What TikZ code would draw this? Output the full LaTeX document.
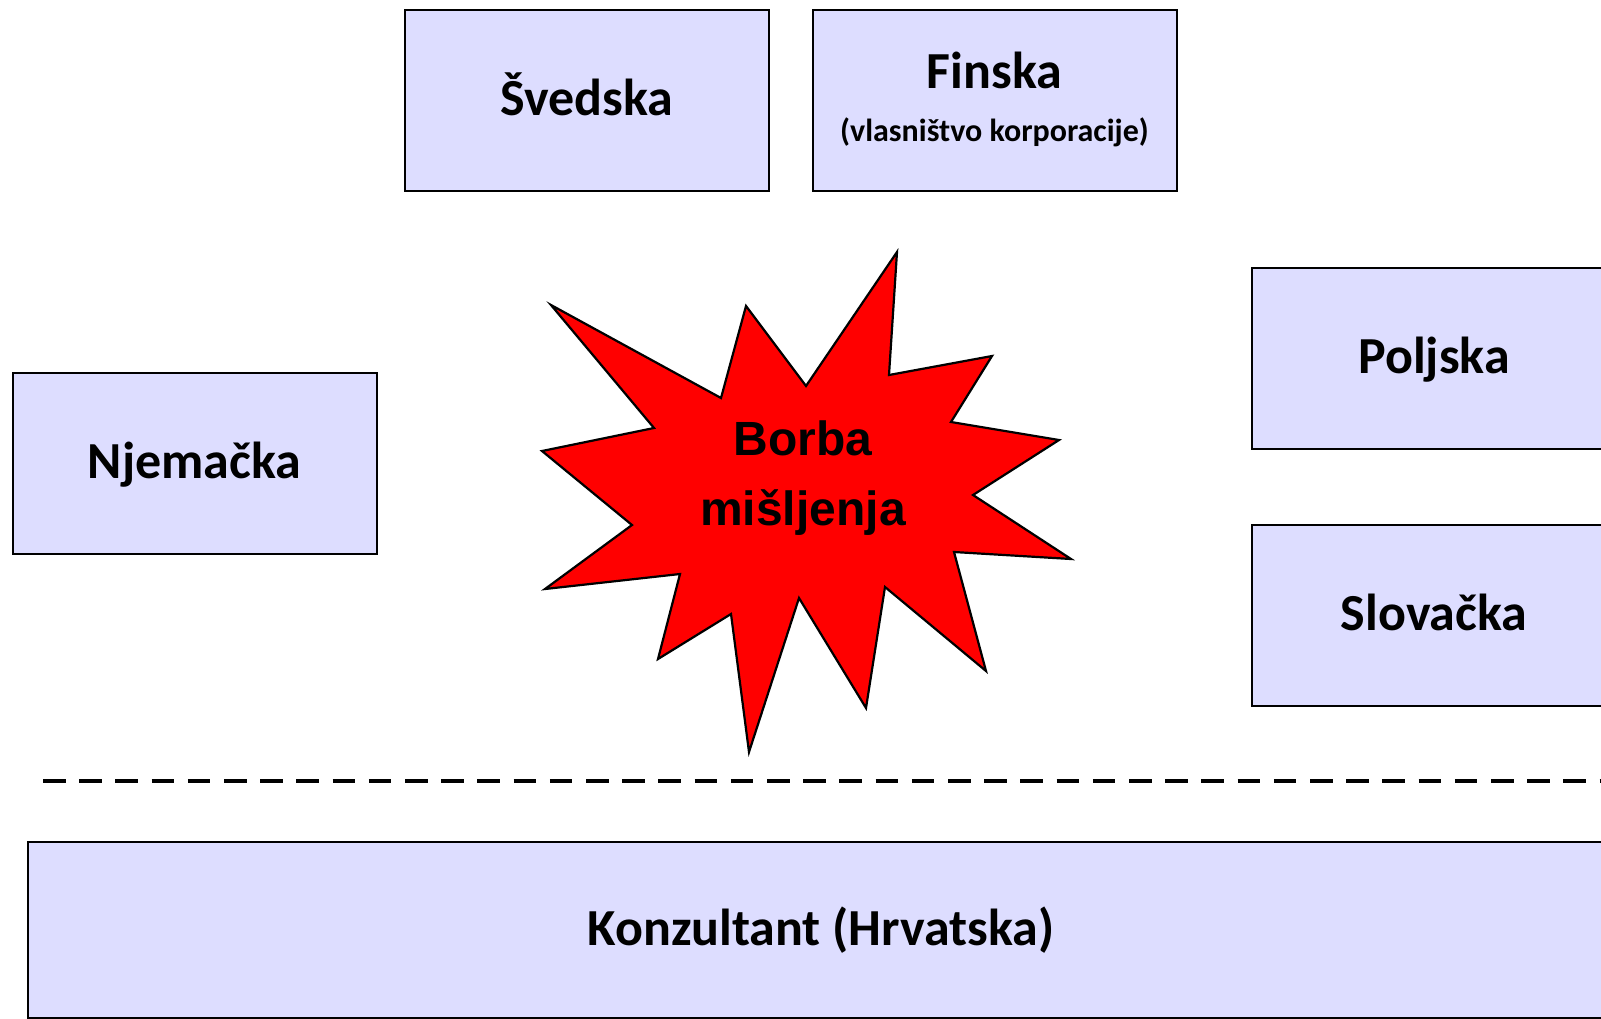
\documentclass[tikz,border=0pt]{standalone}
\usepackage{fontspec}
\setmainfont{Carlito}
\newfontfamily\arialfont{Liberation Sans}
\definecolor{boxfill}{RGB}{221,221,255}
\tikzset{
    country/.style = {draw, rectangle, fill=boxfill, line width=1pt,
        minimum height=90.5pt,
        minimum width=182pt, align=center,
        text height=19.2pt, text depth=3.9pt,
        font=\bfseries\fontsize{26}{31}\selectfont},
    burst/.style = {draw, fill=red, line width=1.1pt, line join=miter},
    split/.style = {draw, line width=2.15pt, dash pattern=on 11.3pt off 6.8pt}
}

\begin{document}
\begin{tikzpicture}[x=0.5pt, y=-0.5pt, node distance=204pt]
        \useasboundingbox (0,0) rectangle (1601,1018);
        \clip (0,0) rectangle (1601,1018);
        \node [country] (sved) at (586.5,100.5) {Švedska};
        \node [country, right of=sved] (fin) {};
        \node [anchor=base, font=\bfseries\fontsize{26}{31}\selectfont] (finime) at (994.5,88) {Finska};
        \node [anchor=base, font=\bfseries\fontsize{16}{19}\selectfont] (finpod) at (994.5,141) {(vlasništvo korporacije)};
        \node [country] (njem) at (194.5,463.5) {Njemačka};
        \node [country] (polj) at (1434,358.5) {Poljska};
        \node [country, below of=polj, node distance=128.25pt] (slov) {Slovačka};
        % borba
        \draw [burst] (897,252) -- (889,375) -- (992,356) -- (951,422) -- (1059,440)
            -- (973,495) -- (1071,559) -- (954,552) -- (986,671) -- (885,587)
            -- (866,708) -- (799,598) -- (749,752) -- (731,614) -- (658,659)
            -- (680,574) -- (545,589) -- (632,525) -- (542,451) -- (654,428)
            -- (551,305) -- (721,398) -- (746,306) -- (806,386) -- cycle;
        \node [align=center, font=\arialfont\bfseries\fontsize{24}{35}\selectfont] (borba) at (803,478) {Borba\\mišljenja};
        % crta
        \coordinate (lijevo) at (43,781);
        \coordinate (desno) at (1620,781);
        \draw [split] (lijevo) -- (desno);
        \node [country, minimum width=793pt, minimum height=88pt] (konz) at (821,930) {Konzultant (Hrvatska)};
    \end{tikzpicture}
\end{document}
